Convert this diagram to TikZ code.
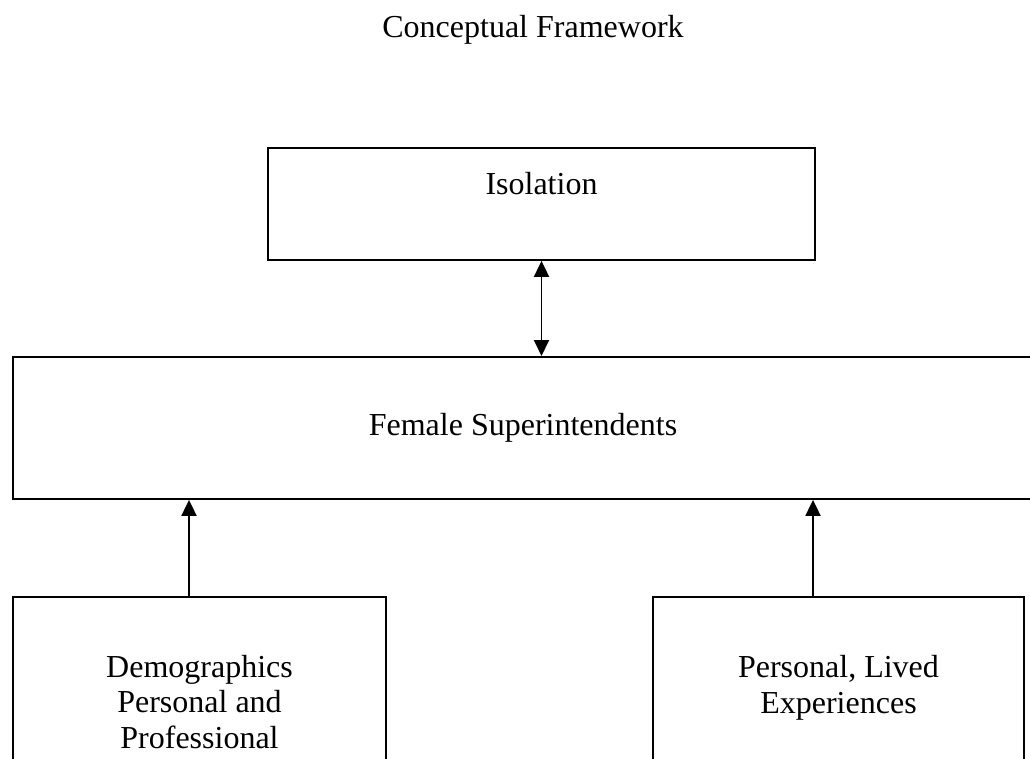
\documentclass[tikz,border=0pt]{standalone}
\usepackage{fontspec}
\setmainfont{Liberation Serif}
\usetikzlibrary{arrows.meta,positioning}

\begin{document}
\begin{tikzpicture}[x=1pt,y=-1pt,
    fwbox/.style={draw=black,line width=1.9pt,inner xsep=0pt,inner ysep=0pt,
      align=center,font=\fontsize{32}{35.5}\selectfont},
    fwlink/.style={line width=1.9pt,-{Triangle[length=16pt,width=15pt]}},
    fwboth/.style={fwlink,{Triangle[length=16pt,width=15pt]}-{Triangle[length=16pt,width=15pt]}}]

  % page frame (the picture runs off the right and bottom edges)
  \useasboundingbox (0,0) rectangle (1030,759);
  \clip (0,0) rectangle (1030,759);

  % ---- title ---------------------------------------------------
  \node[font=\fontsize{32}{35.5}\selectfont,anchor=base] (title) at (533,38)
    {Conceptual Framework};

  % ---- boxes ---------------------------------------------------
  \node[fwbox,anchor=north,minimum width=547pt,text height=47pt,text depth=65pt]
    (iso) at (541.5,147) {Isolation};
  \node[fwbox,anchor=north,minimum width=1020pt,text height=79pt,text depth=63pt]
    (fem) at (523,356) {Female Superintendents};
  \node[fwbox,anchor=north,minimum width=373pt,text height=151.5pt,text depth=200pt]
    (demo) at (199.5,596) {Demographics\\Personal and\\Professional};
  \node[fwbox,anchor=north,minimum width=371pt,text height=116.5pt,text depth=200pt]
    (lived) at (838.5,596) {Personal, Lived\\Experiences};

  % ---- arrows --------------------------------------------------
  \draw[fwboth] (iso.south) -- (iso.south |- fem.north);
  \draw[fwlink] ([xshift=-10.5pt]demo.north) -- ([xshift=-10.5pt]demo.north |- fem.south);
  \draw[fwlink] ([xshift=-25.5pt]lived.north) -- ([xshift=-25.5pt]lived.north |- fem.south);

\end{tikzpicture}
\end{document}
